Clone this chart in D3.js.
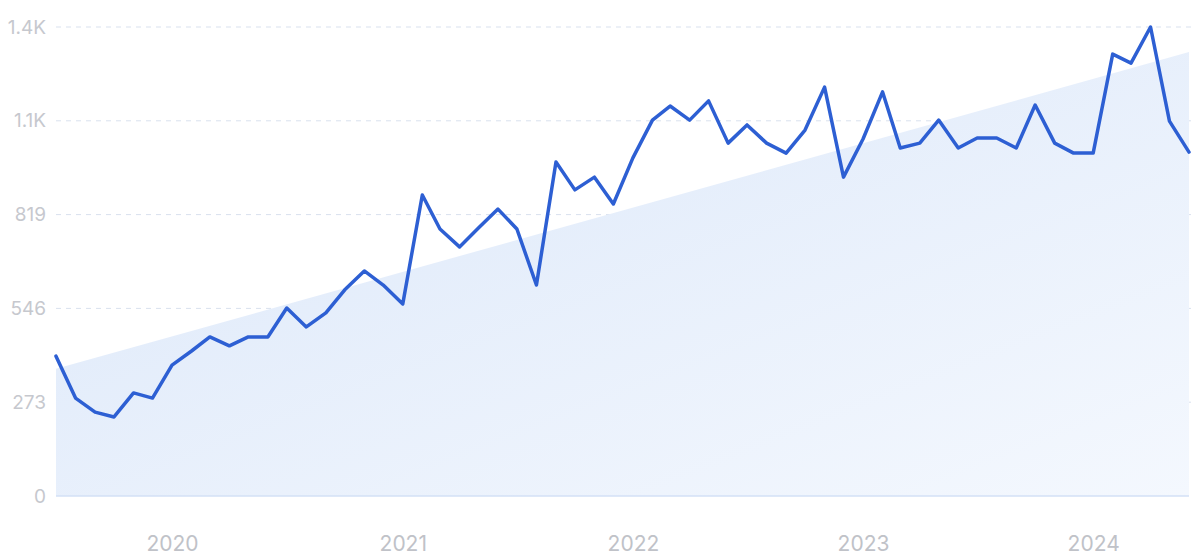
<!DOCTYPE html>
<html>
<head>
<meta charset="utf-8">
<script src="https://cdn.jsdelivr.net/npm/d3@7"></script>
<style>
  html, body { margin: 0; padding: 0; background: #fff; }
  svg { display: block; }
</style>
</head>
<body>
<svg id="chart" width="1200" height="560"></svg>
<script>
// ---- data ----
const startMonth = "2019-07";
const values = [407, 285, 244, 230, 300, 285, 381, 422, 463, 437, 463, 463,
                547, 492, 533, 600, 655, 614, 559, 876, 777, 725, 780, 835,
                777, 614, 972, 891, 928, 850, 984, 1094, 1135, 1094, 1150, 1027,
                1080, 1027, 998, 1065, 1190, 928, 1039, 1176, 1013, 1027, 1094, 1013,
                1042, 1042, 1013, 1138, 1027, 998, 998, 1286, 1260, 1365, 1091, 1001];
const trendValues = [370, 1292];
const yTicks = [0, 273, 546, 819, 1092, 1365];
const yTickLabels = ["0", "273", "546", "819", "1.1K", "1.4K"];
const xTickYears = [2020, 2021, 2022, 2023, 2024];

// ---- layout ----
const svg = d3.select("#chart");
const mLeft = 56, mRight = 1189, mTop = 27, mBottom = 496;
const parse = d3.timeParse("%Y-%m");
const t0 = parse(startMonth);
const dates = values.map((_, i) => d3.timeMonth.offset(t0, i));

const x = d3.scaleTime().domain([dates[0], dates[dates.length - 1]]).range([mLeft, mRight]);
const y = d3.scaleLinear().domain([0, 1365]).range([mBottom, mTop]);

// gradient
const defs = svg.append("defs");
const grad = defs.append("linearGradient").attr("id", "areaGrad")
  .attr("x1", "0%").attr("y1", "0%").attr("x2", "100%").attr("y2", "100%");
grad.append("stop").attr("offset", "0%").attr("stop-color", "#dbe7f9");
grad.append("stop").attr("offset", "100%").attr("stop-color", "#f4f8fe");

// y axis labels
const yAxis = d3.axisLeft(y).tickValues(yTicks)
  .tickFormat((d, i) => yTickLabels[i]).tickSize(0).tickPadding(10);
const yG = svg.append("g").attr("transform", `translate(${mLeft},0)`).call(yAxis);
yG.select(".domain").remove();
yG.selectAll("text")
  .attr("fill", "#c6c8ce")
  .style("font-family", "Inter, 'Noto Sans', sans-serif")
  .style("font-size", "19px");

// grid lines
svg.append("g").selectAll("line").data(yTicks.filter(d => d > 0)).join("line")
  .attr("x1", mLeft).attr("x2", mRight + 6)
  .attr("y1", d => y(d)).attr("y2", d => y(d))
  .attr("stroke", "#d9e1ee").attr("stroke-width", 1)
  .attr("stroke-dasharray", "5,5");

// trend area
const trendData = [
  { d: dates[0], v: trendValues[0] },
  { d: dates[dates.length - 1], v: trendValues[1] }
];
const area = d3.area().x(p => x(p.d)).y0(y(0)).y1(p => y(p.v));
svg.append("path").datum(trendData).attr("d", area).attr("fill", "url(#areaGrad)");

// baseline
svg.append("line").attr("x1", mLeft).attr("x2", mRight)
  .attr("y1", y(0)).attr("y2", y(0))
  .attr("stroke", "#d3e0f6").attr("stroke-width", 1.5);

// x axis
const xAxis = d3.axisBottom(x)
  .tickValues(xTickYears.map(yr => new Date(yr, 0, 1)))
  .tickFormat(d3.timeFormat("%Y")).tickSize(0).tickPadding(0);
const xG = svg.append("g").attr("transform", `translate(0,${mBottom})`).call(xAxis);
xG.select(".domain").remove();
xG.selectAll("text")
  .attr("y", 48).attr("dy", "0.32em")
  .attr("fill", "#c0c2c8")
  .style("font-family", "Inter, 'Noto Sans', sans-serif")
  .style("font-size", "21px");

// line
const line = d3.line().x((d, i) => x(dates[i])).y(d => y(d));
svg.append("path").datum(values).attr("d", line)
  .attr("fill", "none").attr("stroke", "#2d5fd3")
  .attr("stroke-width", 3.5).attr("stroke-linejoin", "round").attr("stroke-linecap", "round");
</script>
</body>
</html>
